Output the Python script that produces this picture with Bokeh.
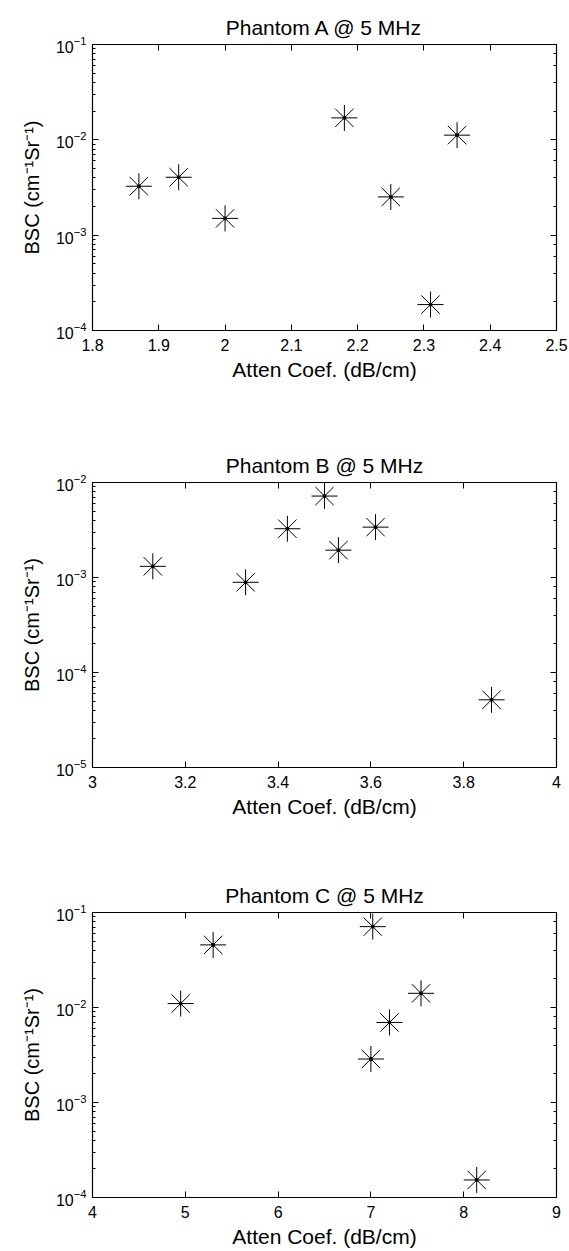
from bokeh.plotting import figure
from bokeh.models import LogAxis, LinearAxis, CustomJSTickFormatter, FixedTicker, Range1d
from bokeh.layouts import column
from bokeh.embed import file_html
from bokeh.resources import INLINE

FONT = "Liberation Sans"

# Phantom A
atten_A = [1.87, 1.93, 2.00, 2.18, 2.25, 2.31, 2.35]
bsc_A = [3.26e-3, 4.05e-3, 1.50e-3, 1.70e-2, 2.52e-3, 1.87e-4, 1.12e-2]
xticks_A = [1.8, 1.9, 2.0, 2.1, 2.2, 2.3, 2.4, 2.5]
xlabels_A = ["1.8", "1.9", "2", "2.1", "2.2", "2.3", "2.4", "2.5"]

# Phantom B
atten_B = [3.13, 3.33, 3.42, 3.50, 3.53, 3.61, 3.86]
bsc_B = [1.31e-3, 8.9e-4, 3.26e-3, 7.2e-3, 1.94e-3, 3.39e-3, 5.16e-5]
xticks_B = [3.0, 3.2, 3.4, 3.6, 3.8, 4.0]
xlabels_B = ["3", "3.2", "3.4", "3.6", "3.8", "4"]

# Phantom C
atten_C = [4.95, 5.30, 7.02, 7.00, 7.20, 7.54, 8.14]
bsc_C = [1.10e-2, 4.56e-2, 7.1e-2, 2.87e-3, 6.96e-3, 1.41e-2, 1.53e-4]
xticks_C = [4, 5, 6, 7, 8, 9]
xlabels_C = ["4", "5", "6", "7", "8", "9"]

titles = ["Phantom A @ 5 MHz", "Phantom B @ 5 MHz", "Phantom C @ 5 MHz"]
xranges = [(1.8, 2.5), (3.0, 4.0), (4.0, 9.0)]
yranges = [(1e-4, 1e-1), (1e-5, 1e-2), (1e-4, 1e-1)]

X_LABEL = "Atten Coef. (dB/cm)"
Y_LABEL = "BSC (cm\u207b\u00b9Sr\u207b\u00b9)"

blank = "return ''"


def make_panel(title, xs, ys, xr, yr, xticks, xlabels, height, top, bottom):
    p = figure(width=569, height=height, x_range=Range1d(*xr), y_range=Range1d(*yr),
               y_axis_type="log", output_backend="svg", toolbar_location=None,
               min_border_left=92, min_border_right=13, min_border_top=top,
               min_border_bottom=bottom, title=title)
    p.title.text_font = FONT
    p.title.text_font_size = "21px"
    p.title.text_font_style = "normal"
    p.title.align = "center"
    p.title.text_color = "black"
    p.title.standoff = 11
    p.grid.visible = False
    p.outline_line_color = "black"
    p.outline_line_width = 1.2
    p.outline_line_alpha = 1

    xa = p.xaxis[0]
    xa.ticker = FixedTicker(ticks=xticks)
    xa.major_label_overrides = {t: l for t, l in zip(xticks, xlabels)}
    xa.axis_label = X_LABEL
    ya = p.yaxis[0]
    ya.axis_label = Y_LABEL
    for ax in (xa, ya):
        ax.axis_label_text_font = FONT
        ax.axis_label_text_font_style = "normal"
        ax.axis_label_text_color = "black"
        ax.major_label_text_font = FONT
        ax.major_label_text_color = "black"
        ax.axis_line_color = "black"
        ax.major_tick_in = 6
        ax.major_tick_out = 0
        ax.minor_tick_in = 3
        ax.minor_tick_out = 0
        ax.major_tick_line_color = "black"
        ax.minor_tick_line_color = "black"
    xa.axis_label_text_font_size = "21px"
    ya.axis_label_text_font_size = "20px"
    xa.major_label_text_font_size = "16px"
    ya.major_label_text_font_size = "16px"
    xa.minor_tick_line_color = None
    xa.axis_label_standoff = 4
    ya.axis_label_standoff = 10
    xa.major_label_standoff = 8
    ya.major_label_standoff = 6

    ra = LogAxis(formatter=CustomJSTickFormatter(code=blank), major_tick_in=6, major_tick_out=0,
                 minor_tick_in=3, minor_tick_out=0, axis_line_color="black",
                 major_label_standoff=0, major_label_text_font_size="1px")
    p.add_layout(ra, "right")
    ta = LinearAxis(ticker=FixedTicker(ticks=xticks), formatter=CustomJSTickFormatter(code=blank),
                    major_tick_in=6, major_tick_out=0, minor_tick_line_color=None,
                    axis_line_color="black", major_label_standoff=0,
                    major_label_text_font_size="1px")
    p.add_layout(ta, "above")

    p.scatter(xs, ys, marker="asterisk", size=26, line_color="black", line_width=1)
    p.scatter(xs, ys, marker="circle", size=3, line_color="black", fill_color="black")
    return p


pA = make_panel(titles[0], atten_A, bsc_A, xranges[0], yranges[0], xticks_A, xlabels_A, 440, 44, 110)
pB = make_panel(titles[1], atten_B, bsc_B, xranges[1], yranges[1], xticks_B, xlabels_B, 430, 42, 103)
pC = make_panel(titles[2], atten_C, bsc_C, xranges[2], yranges[2], xticks_C, xlabels_C, 380, 42, 52)

layout = column(pA, pB, pC, spacing=0)
open("out.html", "w").write(file_html(layout, INLINE))
